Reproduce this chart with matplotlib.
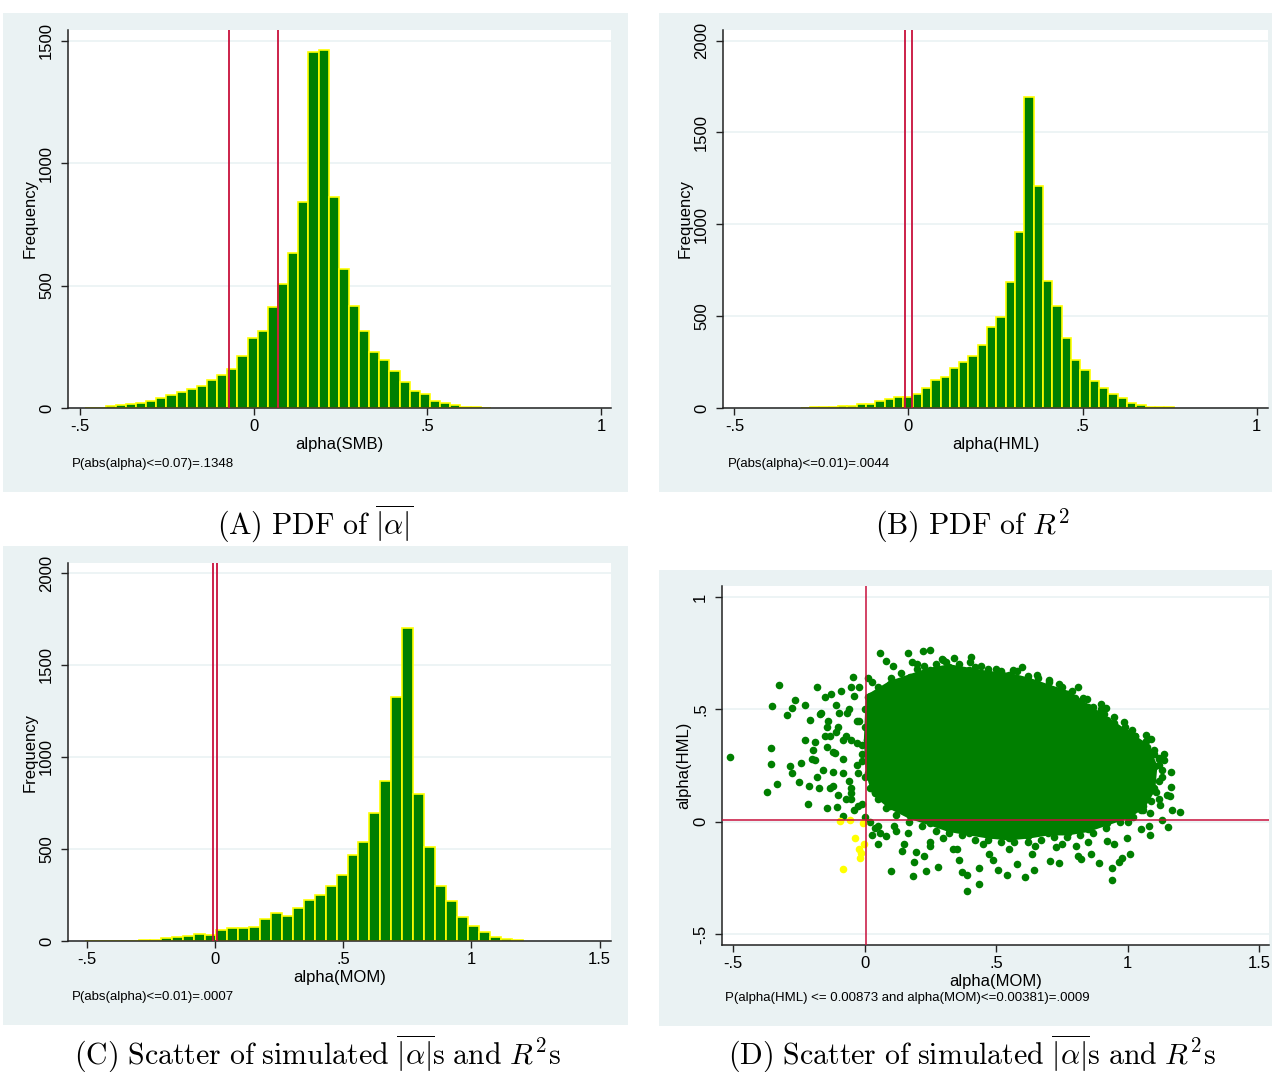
import numpy as np
import matplotlib
matplotlib.use("Agg")
import matplotlib.pyplot as plt

plt.rcParams['font.family'] = ['Liberation Sans', 'DejaVu Sans']
plt.rcParams['mathtext.fontset'] = 'cm'

# --- data ------------------------------------------------------------------

# (A) histogram of alpha(SMB): first bin edge, bin width, counts
smb_start = -0.485
smb_width = 0.0292
smb_counts = [2, 2, 8, 11, 15, 20, 27, 40, 53, 64, 78, 88, 116, 133, 161, 211,
              286, 313, 411, 508, 631, 842, 1455, 1461, 862, 569, 415, 313, 227,
              197, 150, 106, 68, 57, 27, 20, 11, 4, 3, 2]
smb_cut = [-0.07, 0.07]

# (B) histogram of alpha(HML)
hml_start = -0.31
hml_width = 0.0268
hml_counts = [2, 3, 4, 5, 9, 13, 22, 22, 36, 50, 60, 62, 75, 108, 150, 167,
              217, 250, 285, 345, 440, 495, 685, 958, 1692, 1206, 690, 557, 382,
              260, 205, 145, 110, 78, 55, 28, 18, 5, 4, 3]
hml_cut = [-0.01, 0.01]

# (C) histogram of alpha(MOM)
mom_start = -0.508
mom_width = 0.0427
mom_counts = [2, 0, 0, 1, 2, 3, 5, 16, 20, 25, 40, 35, 58, 73, 71, 74, 118,
              154, 134, 178, 225, 249, 300, 358, 468, 539, 693, 869, 1325, 1701,
              799, 512, 300, 216, 131, 82, 49, 20, 11, 4]
mom_cut = [-0.006, 0.006]

# (D) scatter alpha(MOM) vs alpha(HML)
# dense core of the cloud (outline, data units)
core_mom = [0.015, 0.098, 0.173, 0.248, 0.323, 0.398, 0.473, 0.548, 0.623, 0.698,
            0.773, 0.848, 0.923, 0.998, 1.073, 1.103, 1.095, 1.058, 0.998, 0.923,
            0.848, 0.773, 0.698, 0.623, 0.548, 0.473, 0.398, 0.323, 0.248, 0.173,
            0.098, 0.038, 0.015, 0.008]
core_hml = [0.555, 0.614, 0.644, 0.673, 0.688, 0.673, 0.658, 0.651, 0.629, 0.599,
            0.570, 0.511, 0.452, 0.393, 0.334, 0.246, 0.143, 0.069, 0.025, -0.004,
            -0.034, -0.049, -0.049, -0.063, -0.071, -0.063, -0.049, -0.034, -0.004,
            0.025, 0.069, 0.128, 0.216, 0.364]
# points hugging the edge of the core
edge_mom = [0.05, 0.1, 0.14, 0.2, 0.27, 0.31, 0.36, 0.42, 0.47, 0.52, 0.58, 0.62,
            0.66, 0.7, 0.75, 0.79, 0.83, 0.87, 0.91, 0.95, 0.99, 1.03, 1.07, 1.1,
            1.12, 1.13, 1.12, 1.11, 1.09, 1.06, 1.02, 0.97, 0.92, 0.87, 0.82, 0.77,
            0.72, 0.67, 0.62, 0.57, 0.52, 0.47, 0.42, 0.37, 0.32, 0.27, 0.22, 0.17,
            0.12, 0.08, 0.05, 0.02, 0.0, -0.01, -0.01, 0.0, 0.0, 0.02]
edge_hml = [0.6, 0.64, 0.66, 0.68, 0.7, 0.71, 0.7, 0.69, 0.68, 0.67, 0.67, 0.65,
            0.64, 0.62, 0.6, 0.58, 0.55, 0.51, 0.48, 0.44, 0.42, 0.38, 0.36, 0.32,
            0.28, 0.23, 0.18, 0.13, 0.09, 0.05, 0.02, 0.0, -0.03, -0.05, -0.06,
            -0.07, -0.07, -0.08, -0.09, -0.09, -0.09, -0.08, -0.08, -0.06, -0.05,
            -0.04, -0.02, 0.0, 0.03, 0.06, 0.1, 0.15, 0.2, 0.27, 0.34, 0.42, 0.5,
            0.56]
# individual points outside the core
pts_mom = [-0.51, -0.372, -0.357, -0.357, -0.353, -0.333, -0.326, -0.296, -0.285,
           -0.275, -0.263, -0.275, -0.248, -0.24, -0.228, -0.225, -0.215, -0.21,
           -0.206, -0.195, -0.188, -0.18, -0.173, -0.143, -0.104, -0.083, -0.045,
           -0.022, 0.012, 0.057, 0.083, 0.11, 0.165, 0.18, 0.222, 0.25, 0.225,
           0.293, 0.34, 0.405, 0.443, 0.563, 0.657, 0.74, 0.81, 0.845, 0.9, 0.92,
           0.95, 0.987, 1.017, 1.07, 1.091, 1.118, 1.14, 1.167, 1.167, 1.163, 1.2,
           1.17, 1.125, 1.155, 1.13, 1.085, 1.085, 1.008, 0.98, 0.968, 0.94, 0.94,
           0.893, 0.863, 0.825, 0.81, 0.74, 0.705, 0.645, 0.61, 0.578, 0.54, 0.507,
           0.488, 0.435, 0.435, 0.39, 0.39, 0.372, 0.36, 0.278, 0.233, 0.225,
           0.188, 0.183, 0.195, 0.143, 0.1, 0.053, 0.03, 0.083, 0.165, 0.113, 0.3,
           0.248, 0.338, 0.473, 0.638, 0.728, 0.803, 0.923, 0.998, 1.05,
           -0.128, -0.143, -0.113, -0.083, -0.053, -0.098, -0.158, -0.12, -0.053,
           -0.023, -0.068, -0.053, -0.083, -0.143, -0.188, -0.165, -0.15, -0.023,
           -0.05, -0.11, -0.01, -0.06, -0.1, -0.03, -0.13, 0.0, 0.02, 0.05,
           1.1, 1.12, 1.13, 1.1, 1.12, 1.05, 1.0, 1.06, 1.14, 1.15, 1.08, 1.03,
           0.15, 0.25, 0.35, 0.45, 0.55, 0.65, 0.75, 0.85, 0.95, 0.2, 0.4, 0.6,
           0.8, 0.3, 0.5, 0.7, 0.9, 0.12, 0.06, 0.04,
           -0.05, -0.08, -0.03, -0.1, -0.06, -0.02, -0.12, -0.07, -0.04, -0.15,
           -0.17, -0.2, -0.11, -0.09, -0.04, 0.03, -0.13, -0.18, -0.03, -0.07,
           -0.12, -0.14, -0.01]
pts_hml = [0.29, 0.133, 0.327, 0.256, 0.515, 0.169, 0.607, 0.477, 0.249, 0.507,
           0.54, 0.216, 0.177, 0.26, 0.364, 0.518, 0.077, 0.158, 0.452, 0.32,
           0.356, 0.6, 0.15, 0.062, 0.066, 0.025, 0.644, 0.6, 0.64, 0.75, 0.717,
           0.695, 0.75, 0.71, 0.758, 0.764, 0.695, 0.722, 0.729, 0.735, 0.695,
           0.673, 0.654, 0.614, 0.6, 0.548, 0.523, 0.504, 0.467, 0.445, 0.408,
           0.386, 0.368, 0.283, 0.275, 0.219, 0.153, 0.113, 0.043, 0.054, 0.072,
           -0.022, 0.007, -0.06, 0.037, -0.143, -0.163, -0.178, -0.208, -0.26,
           -0.184, -0.144, -0.166, -0.152, -0.184, -0.174, -0.215, -0.247, -0.189,
           -0.237, -0.215, -0.171, -0.277, -0.208, -0.309, -0.236, -0.225, -0.169,
           -0.203, -0.218, -0.152, -0.181, -0.244, -0.137, -0.13, -0.218, -0.1,
           -0.06, -0.063, -0.049, -0.019, -0.071, -0.09, -0.122, -0.144, -0.144,
           -0.115, -0.108, -0.085, -0.071, -0.034,
           0.57, 0.423, 0.305, 0.216, 0.364, 0.482, 0.231, 0.158, 0.128, 0.216,
           0.482, 0.6, 0.364, 0.334, 0.275, 0.482, 0.555, 0.069, 0.1, 0.4, 0.3,
           0.18, 0.12, 0.45, 0.38, 0.02, 0.0, -0.02,
           0.3, 0.25, 0.2, 0.15, 0.1, 0.05, 0.0, 0.33, 0.3, 0.12, -0.02, 0.38,
           -0.1, -0.11, -0.12, -0.1, -0.12, -0.11, -0.1, -0.09, -0.1, 0.7, 0.71,
           0.69, 0.55, 0.72, 0.68, 0.63, 0.5, -0.04, -0.05, -0.03,
           0.15, 0.28, 0.35, 0.42, 0.5, 0.45, 0.22, 0.1, 0.05, 0.38, 0.48, 0.28,
           0.52, 0.58, 0.56, 0.62, 0.15, 0.2, 0.25, 0.38, 0.31, 0.45, 0.08]
# points with alpha(HML)<=0.00873 and alpha(MOM)<=0.00381
low_mom = [-0.093, -0.057, -0.0075, -0.0375, -0.002, -0.0195, -0.015, -0.0165, -0.08]
low_hml = [0.003, 0.006, -0.004, -0.074, -0.1, -0.122, -0.141, -0.163, -0.211]
hml_line = 0.00873
mom_line = 0.00381

freq_ticks = [0, 500, 1000, 1500, 2000]
alpha_ticks = [-0.5, 0, 0.5, 1, 1.5]
alpha_labels = ['-.5', '0', '.5', '1', '1.5']

captions = [r'$\mathrm{(A)\ PDF\ of\ }\overline{|\alpha|}$',
            r'$\mathrm{(B)\ PDF\ of\ }R^2$',
            r'$\mathrm{(C)\ Scatter\ of\ simulated\ }\overline{|\alpha|}\mathrm{s\ and\ }R^2\mathrm{s}$',
            r'$\mathrm{(D)\ Scatter\ of\ simulated\ }\overline{|\alpha|}\mathrm{s\ and\ }R^2\mathrm{s}$']

# --- styling ----------------------------------------------------------------
W, H = 1272, 1072
BG = '#eaf2f3'
GREEN = '#007f00'
RED = '#c8103c'


def rect(l, t, r, b):
    return [l / W, 1 - b / H, (r - l) / W, (b - t) / H]


def frame(fig, box):
    ax = fig.add_axes(rect(*box), zorder=0)
    ax.set_facecolor(BG)
    ax.set_xticks([])
    ax.set_yticks([])
    for s in ax.spines.values():
        s.set_visible(False)


def style(ax, xlim, ylim, xt, yt, ytl, xlabel, ylabel):
    ax.set_xlim(*xlim)
    ax.set_ylim(*ylim)
    ax.set_xticks(xt)
    ax.set_xticklabels([alpha_labels[alpha_ticks.index(v)] for v in xt])
    ax.set_yticks(yt)
    ax.set_yticklabels(ytl, rotation=90, va='center')
    ax.grid(axis='y', color=BG, lw=1.2)
    ax.set_axisbelow(True)
    ax.spines['top'].set_visible(False)
    ax.spines['right'].set_visible(False)
    for s in ('left', 'bottom'):
        ax.spines[s].set_color('#222222')
        ax.spines[s].set_linewidth(1.1)
    ax.tick_params(axis='both', length=5, width=1, color='#222222',
                   labelsize=12, labelcolor='black')
    ax.tick_params(axis='x', pad=3)
    ax.tick_params(axis='y', pad=5)
    ax.set_xlabel(xlabel, fontsize=12, labelpad=2)
    ax.set_ylabel(ylabel, fontsize=12, labelpad=1)


def hist(ax, start, width, counts):
    edges = start + width * np.arange(len(counts))
    ax.bar(edges, counts, width=width, align='edge', color=GREEN,
           edgecolor='#ffff00', linewidth=1.2, zorder=2)


fig = plt.figure(figsize=(W / 100, H / 100), dpi=100)

# (A)
frame(fig, (3, 13, 628, 492))
ax = fig.add_axes(rect(68, 30, 611, 408), zorder=1)
hist(ax, smb_start, smb_width, smb_counts)
for c in smb_cut:
    ax.axvline(c, color=RED, lw=1.3, zorder=3)
style(ax, (-0.535, 1.029), (0, 1543), [-0.5, 0, 0.5, 1], freq_ticks[:4],
      [str(v) for v in freq_ticks[:4]], 'alpha(SMB)', 'Frequency')
fig.text(72 / W, 1 - 464 / H, 'P(abs(alpha)<=0.07)=.1348', fontsize=9.5, va='center')

# (B)
frame(fig, (659, 13, 1272, 492))
ax = fig.add_axes(rect(723, 30, 1268, 408), zorder=1)
hist(ax, hml_start, hml_width, hml_counts)
for c in hml_cut:
    ax.axvline(c, color=RED, lw=1.3, zorder=3)
style(ax, (-0.533, 1.033), (0, 2058), [-0.5, 0, 0.5, 1], freq_ticks,
      [str(v) for v in freq_ticks], 'alpha(HML)', 'Frequency')
fig.text(728 / W, 1 - 464 / H, 'P(abs(alpha)<=0.01)=.0044', fontsize=9.5, va='center')

# (C)
frame(fig, (3, 546, 628, 1025))
ax = fig.add_axes(rect(68, 563, 611, 941), zorder=1)
hist(ax, mom_start, mom_width, mom_counts)
for c in mom_cut:
    ax.axvline(c, color=RED, lw=1.3, zorder=3)
style(ax, (-0.573, 1.544), (0, 2054), alpha_ticks, freq_ticks,
      [str(v) for v in freq_ticks], 'alpha(MOM)', 'Frequency')
fig.text(72 / W, 1 - 997 / H, 'P(abs(alpha)<=0.01)=.0007', fontsize=9.5, va='center')

# (D)
frame(fig, (659, 570, 1272, 1026))
ax = fig.add_axes(rect(722, 586, 1269, 945), zorder=1)
ax.fill(core_mom, core_hml, color=GREEN, lw=4, zorder=2)
ax.scatter(core_mom, core_hml, s=30, color=GREEN, lw=0, zorder=2)
ax.scatter(edge_mom, edge_hml, s=30, color=GREEN, lw=0, zorder=2)
ax.scatter(pts_mom, pts_hml, s=30, color=GREEN, lw=0, zorder=2)
ax.scatter(low_mom, low_hml, s=30, color='#ffff00', lw=0, zorder=2)
ax.axvline(mom_line, color=RED, lw=1.1, zorder=3)
ax.axhline(hml_line, color=RED, lw=1.1, zorder=3)
style(ax, (-0.542, 1.538), (-0.549, 1.049), alpha_ticks, [-0.5, 0, 0.5, 1],
      ['-.5', '0', '.5', '1'], 'alpha(MOM)', 'alpha(HML)')
fig.text(725 / W, 1 - 998 / H,
         'P(alpha(HML) <= 0.00873 and alpha(MOM)<=0.00381)=.0009',
         fontsize=9.5, va='center')

# captions
for cap, (cx, cy) in zip(captions, [(315, 534), (972, 534), (317, 1064), (972, 1064)]):
    fig.text(cx / W, 1 - cy / H, cap, fontsize=21.5, ha='center', va='baseline')

fig.savefig('out.png', dpi=100)
